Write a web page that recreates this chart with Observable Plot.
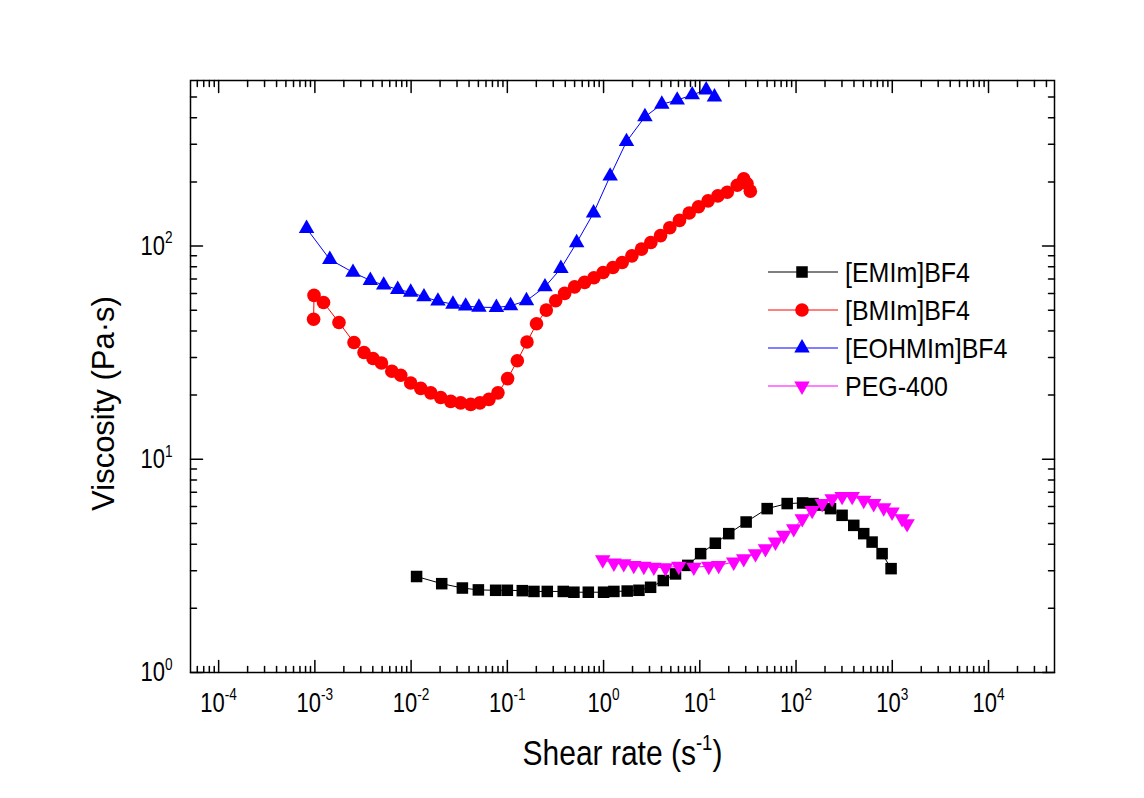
<!DOCTYPE html>
<html><head><meta charset="utf-8">
<script src="https://cdn.jsdelivr.net/npm/d3@7"></script>
<script src="https://cdn.jsdelivr.net/npm/@observablehq/plot@0.6"></script>
<style>
body{margin:0;background:#fff;}
#wrap{position:relative;width:1144px;height:798px;font-family:"Liberation Sans",Arial,sans-serif;background:#fff;}
#legend{position:absolute;left:768px;top:253px;}
.row{display:flex;align-items:center;height:38px;}
.row span{font-size:25px;margin-left:7px;color:#000;line-height:38px;display:inline-block;transform:scaleY(1.1);}
</style></head><body><div id="wrap"></div>
<script>
// ---- data ----
const seriesNames = ["[EMIm]BF4", "[BMIm]BF4", "[EOHMIm]BF4", "PEG-400"];
const seriesColors = ["#000000", "#ff0000", "#0000ff", "#ff00ff"];

const emimX = [0.0114, 0.0208, 0.0341, 0.050, 0.0756, 0.100, 0.143, 0.189, 0.26, 0.381, 0.492, 0.694, 1.0, 1.28, 1.76, 2.33, 3.08, 4.17, 5.59, 7.5, 10.2, 14.5, 20, 30.3, 50.1, 80.9, 117, 150, 180, 228, 301, 398, 505, 617, 784, 972];
const emimY = [2.82, 2.61, 2.49, 2.44, 2.43, 2.43, 2.42, 2.40, 2.40, 2.40, 2.38, 2.38, 2.38, 2.40, 2.41, 2.43, 2.51, 2.70, 2.90, 3.18, 3.61, 4.04, 4.48, 5.08, 5.87, 6.20, 6.24, 6.20, 6.10, 5.87, 5.46, 4.90, 4.48, 4.09, 3.61, 3.07];

const bmimX = [0.00097, 0.00098, 0.00123, 0.00178, 0.00255, 0.00324, 0.00402, 0.00492, 0.0063, 0.0078, 0.0099, 0.0126, 0.016, 0.0203, 0.0258, 0.0327, 0.0416, 0.0519, 0.0644, 0.0799, 0.1007, 0.127, 0.16, 0.201, 0.254, 0.318, 0.394, 0.5, 0.635, 0.794, 0.99, 1.25, 1.56, 1.97, 2.48, 3.1, 3.91, 4.88, 6.15, 7.76, 9.69, 12.2, 15.4, 19.3, 24.5, 28.6, 31, 33.5];
const bmimY = [45.4, 58.7, 54.4, 43.8, 35.3, 31.7, 29.7, 28.3, 25.9, 24.8, 22.8, 21.5, 20.5, 19.5, 18.7, 18.4, 18.1, 18.4, 19.1, 20.5, 23.9, 29, 35.5, 43.2, 50.1, 55.4, 60, 64.4, 67.6, 71, 75.2, 79.4, 83.8, 90, 96.8, 104, 112, 122, 132, 143, 153, 163, 172, 179, 193, 207, 196, 181];

const eohX = [0.00082, 0.00143, 0.00249, 0.00377, 0.00519, 0.00726, 0.0099, 0.0136, 0.019, 0.0272, 0.0369, 0.0507, 0.0769, 0.108, 0.158, 0.246, 0.36, 0.525, 0.787, 1.17, 1.73, 2.69, 4.03, 5.82, 8.34, 11.65, 14.2];
const eohY = [121, 86.6, 75.3, 69, 65.6, 62.6, 60.7, 57.8, 55.2, 53.4, 52.3, 51.7, 51.5, 52.5, 55.4, 64.4, 78.5, 103.7, 143, 213, 309, 404, 463, 484, 512, 540, 500];

const pegX = [0.98, 1.28, 1.62, 2.06, 2.62, 3.33, 4.4, 6.05, 8.67, 12.4, 15.7, 22.5, 28.6, 37.9, 48.1, 61.1, 74.5, 94.6, 116, 147, 187, 237, 301, 383, 505, 641, 814, 995, 1265, 1425];
const pegY = [3.38, 3.26, 3.24, 3.18, 3.15, 3.12, 3.10, 3.15, 3.12, 3.15, 3.18, 3.30, 3.42, 3.61, 3.81, 4.09, 4.40, 4.73, 5.27, 5.76, 6.20, 6.54, 6.70, 6.70, 6.42, 6.20, 5.93, 5.66, 5.27, 4.99];

const xMajor = [1e-4, 1e-3, 1e-2, 1e-1, 1, 1e1, 1e2, 1e3, 1e4];
const yMajor = [1, 10, 100];
const xTitle = "Shear rate (s^{-1})";
const yTitle = "Viscosity (Pa·s)";

// ---- helpers ----
const xDomain = [5.1e-5, 4.85e4];
const yDomain = [1, 598];
function minorTicks(domain) {
  const out = [];
  for (let k = Math.floor(Math.log10(domain[0])); k <= Math.ceil(Math.log10(domain[1])); k++) {
    for (let m = 2; m <= 9; m++) {
      const v = m * Math.pow(10, k);
      if (v > domain[0] && v < domain[1]) out.push(v);
    }
  }
  return out;
}
const xMinor = minorTicks(xDomain);
const yMinor = minorTicks(yDomain);

const toRows = (xs, ys) => xs.map((x, i) => ({x, y: ys[i]}));
const emim = toRows(emimX, emimY);
const bmim = toRows(bmimX, bmimY);
const eoh = toRows(eohX, eohY);
const peg = toRows(pegX, pegY);

const triUp = {draw(ctx, size) {
  const r = Math.sqrt(size / Math.PI), a = r * 1.25, h = a * Math.sqrt(3);
  ctx.moveTo(0, -2 * h / 3); ctx.lineTo(a, h / 3); ctx.lineTo(-a, h / 3); ctx.closePath();
}};
const triDown = {draw(ctx, size) {
  const r = Math.sqrt(size / Math.PI), a = r * 1.25, h = a * Math.sqrt(3);
  ctx.moveTo(0, 2 * h / 3); ctx.lineTo(a, -h / 3); ctx.lineTo(-a, -h / 3); ctx.closePath();
}};
const symbols = [d3.symbolSquare, d3.symbolCircle, triUp, triDown];
const radii = [6.5, 6.8, 6.2, 6.2];

const tickShape = {draw(ctx, l) { ctx.moveTo(0, 0); ctx.lineTo(0, -l); }};
function frameTicks(xs, ys, len) {
  const o = {length: len, anchor: "start", shape: tickShape, stroke: "black", strokeWidth: 1.5};
  return [
    Plot.vector(xs, {x: d => d, frameAnchor: "bottom", rotate: 0, ...o}),
    Plot.vector(xs, {x: d => d, frameAnchor: "top", rotate: 180, ...o}),
    Plot.vector(ys, {y: d => d, frameAnchor: "left", rotate: 90, ...o}),
    Plot.vector(ys, {y: d => d, frameAnchor: "right", rotate: -90, ...o})
  ];
}
const expFmt = d => "10^{" + Math.round(Math.log10(d)) + "}";

const datasets = [emim, bmim, eoh, peg];
const seriesMarks = [];
datasets.forEach((data, i) => {
  seriesMarks.push(Plot.line(data, {x: "x", y: "y", stroke: seriesColors[i], strokeWidth: 1}));
});
datasets.forEach((data, i) => {
  seriesMarks.push(Plot.dot(data, {x: "x", y: "y", symbol: symbols[i], r: radii[i], fill: seriesColors[i], stroke: "none"}));
});

const chart = Plot.plot({
  width: 1144, height: 798,
  marginLeft: 190, marginRight: 90, marginTop: 80, marginBottom: 126,
  style: {fontFamily: "'Liberation Sans', Arial, sans-serif", background: "white", color: "black"},
  x: {type: "log", domain: xDomain},
  y: {type: "log", domain: yDomain},
  marks: [
    ...seriesMarks,
    Plot.frame({stroke: "black", strokeWidth: 1.5}),
    ...frameTicks(xMajor, yMajor, 12),
    ...frameTicks(xMinor, yMinor, 6),
    Plot.axisX({ticks: xMajor, tickSize: 0, tickPadding: 20, tickFormat: expFmt, fontSize: 22, label: null}),
    Plot.axisY({ticks: yMajor, tickSize: 0, tickPadding: 18, tickFormat: expFmt, fontSize: 22, label: null}),
    Plot.text([xTitle], {text: d => d, frameAnchor: "bottom", textAnchor: "middle", lineAnchor: "middle", dy: 81, fontSize: 30}),
    Plot.text([yTitle], {text: d => d, frameAnchor: "left", textAnchor: "middle", lineAnchor: "middle", rotate: -90, dx: -86, dy: 27, fontSize: 31})
  ]
});

const wrap = document.getElementById("wrap");
wrap.appendChild(chart);

// superscripts as real tspans, and the taller letter shapes of the original
function supify(root) {
  root.querySelectorAll("text").forEach(t => {
    const s = t.textContent;
    if (!s.includes("^{")) return;
    const fs = parseFloat(getComputedStyle(t).fontSize) || 20;
    const tr = t.getAttribute("transform") || "";
    t.setAttribute("transform", tr + (s.startsWith("10^") ? " scale(1,1.22)" : " scale(1,1.15)"));
    while (t.firstChild) t.removeChild(t.firstChild);
    const re = /\^\{([^}]*)\}/g; let last = 0, m; const parts = [];
    while ((m = re.exec(s))) { parts.push([s.slice(last, m.index), false]); parts.push([m[1], true]); last = re.lastIndex; }
    parts.push([s.slice(last), false]);
    let shifted = false;
    for (const [txt, isSup] of parts) {
      if (!txt) continue;
      const ts = document.createElementNS("http://www.w3.org/2000/svg", "tspan");
      ts.textContent = txt;
      if (isSup) { ts.setAttribute("font-size", fs * 0.62); ts.setAttribute("dy", -fs * 0.42); shifted = true; }
      else if (shifted) { ts.setAttribute("dy", fs * 0.42); shifted = false; }
      t.appendChild(ts);
    }
  });
}
supify(chart);

// legend
const legend = document.createElement("div");
legend.id = "legend";
seriesNames.forEach((name, i) => {
  const row = document.createElement("div");
  row.className = "row";
  const svg = d3.create("svg").attr("width", 70).attr("height", 38);
  svg.append("line").attr("x1", 0).attr("x2", 70).attr("y1", 19).attr("y2", 19).attr("stroke", seriesColors[i]).attr("stroke-width", 1);
  svg.append("path").attr("transform", "translate(34,19)")
    .attr("d", d3.symbol(symbols[i], radii[i] * radii[i] * Math.PI)())
    .attr("fill", seriesColors[i]);
  row.appendChild(svg.node());
  const sp = document.createElement("span");
  sp.textContent = name;
  row.appendChild(sp);
  legend.appendChild(row);
});
wrap.appendChild(legend);
</script></body></html>
